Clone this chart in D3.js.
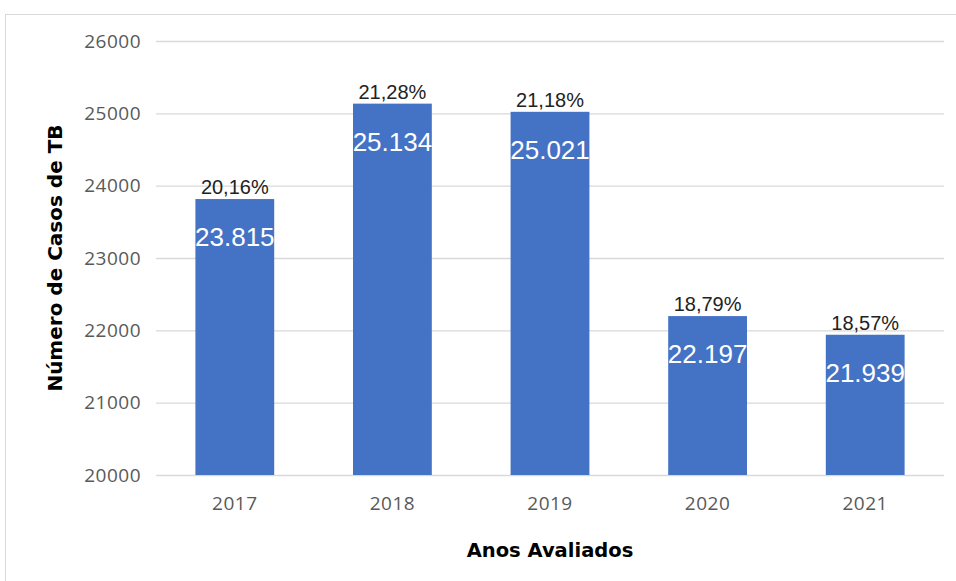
<!DOCTYPE html>
<html>
<head>
<meta charset="utf-8">
<script src="https://cdn.jsdelivr.net/npm/d3@7"></script>
<style>
  body { margin: 0; background: #fff; }
</style>
</head>
<body>
<div id="chart"></div>
<script>
let years = ['2017', '2018', '2019', '2020', '2021']
let cases = [23815, 25134, 25021, 22197, 21939]
let percents = ['20,16%', '21,28%', '21,18%', '18,79%', '18,57%']
let yTicks = [20000, 21000, 22000, 23000, 24000, 25000, 26000]

let margin = { top: 41, bottom: 106, left: 156, right: 12 }
let width = 956 - margin.left - margin.right
let height = 581 - margin.top - margin.bottom

let root = d3
  .select('#chart')
  .append('svg')
  .attr('width', 956)
  .attr('height', 581)

// light frame round the chart area
root
  .append('rect')
  .attr('x', 5.5)
  .attr('y', 14.5)
  .attr('width', 1000)
  .attr('height', 1000)
  .attr('fill', 'none')
  .attr('stroke', '#d9d9d9')

let svg = root
  .append('g')
  .attr('transform', `translate(${margin.left},${margin.top})`)

let xPositionScale = d3
  .scaleBand()
  .domain(years)
  .range([0, width])
  .paddingInner(0.5)
  .paddingOuter(0.25)

let yPositionScale = d3
  .scaleLinear()
  .domain([20000, 26000])
  .range([height, 0])

let data = years.map((y, i) => ({ year: y, value: cases[i], pct: percents[i] }))

// gridlines + y labels
let yAxis = d3
  .axisLeft(yPositionScale)
  .tickValues(yTicks)
  .tickSize(-width)
  .tickPadding(15)
  .tickFormat(d3.format('d'))

svg
  .append('g')
  .attr('class', 'y-axis')
  .call(yAxis)
  .call(g => g.select('.domain').remove())
  .call(g => g.selectAll('line').attr('stroke', '#d9d9d9').attr('stroke-width', 1.3))
  .call(g =>
    g
      .selectAll('text')
      .attr('fill', '#595959')
      .style('font-family', 'Open Sans, sans-serif')
      .style('font-size', '19px')
      .style('letter-spacing', '0.5px')
  )

let xAxis = d3.axisBottom(xPositionScale).tickSize(0).tickPadding(22)

svg
  .append('g')
  .attr('class', 'x-axis')
  .attr('transform', `translate(0,${height})`)
  .call(xAxis)
  .call(g => g.select('.domain').remove())
  .call(g =>
    g
      .selectAll('text')
      .attr('fill', '#595959')
      .style('font-family', 'Open Sans, sans-serif')
      .style('font-size', '19px')
      .style('letter-spacing', '0.5px')
  )

svg
  .selectAll('.bar')
  .data(data)
  .enter()
  .append('rect')
  .attr('class', 'bar')
  .attr('x', d => xPositionScale(d.year))
  .attr('y', d => yPositionScale(d.value))
  .attr('width', xPositionScale.bandwidth())
  .attr('height', d => height - yPositionScale(d.value))
  .attr('fill', '#4472c4')

svg
  .selectAll('.pct')
  .data(data)
  .enter()
  .append('text')
  .attr('class', 'pct')
  .text(d => d.pct)
  .attr('x', d => xPositionScale(d.year) + xPositionScale.bandwidth() / 2)
  .attr('y', d => yPositionScale(d.value) - 5)
  .attr('text-anchor', 'middle')
  .attr('fill', '#222')
  .style('font-family', 'Liberation Sans, Arial, sans-serif')
  .style('font-size', '20px')

svg
  .selectAll('.val')
  .data(data)
  .enter()
  .append('text')
  .attr('class', 'val')
  .text(d => d3.format(',')(d.value).replace(',', '.'))
  .attr('x', d => xPositionScale(d.year) + xPositionScale.bandwidth() / 2)
  .attr('y', d => yPositionScale(d.value) + 47)
  .attr('text-anchor', 'middle')
  .attr('fill', '#fff')
  .style('font-family', 'Liberation Sans, Arial, sans-serif')
  .style('font-size', '26px')

svg
  .append('text')
  .text('Anos Avaliados')
  .attr('x', width / 2)
  .attr('y', height + 82)
  .attr('text-anchor', 'middle')
  .attr('fill', '#000')
  .style('font-family', 'DejaVu Sans, sans-serif')
  .style('font-weight', 'bold')
  .style('font-size', '19.5px')

svg
  .append('text')
  .text('Número de Casos de TB')
  .attr('transform', `translate(${55 - margin.left},${height / 2}) rotate(-90)`)
  .attr('text-anchor', 'middle')
  .attr('dy', '0.35em')
  .attr('fill', '#000')
  .style('font-family', 'DejaVu Sans, sans-serif')
  .style('font-weight', 'bold')
  .style('font-size', '20px')
</script>
</body>
</html>
